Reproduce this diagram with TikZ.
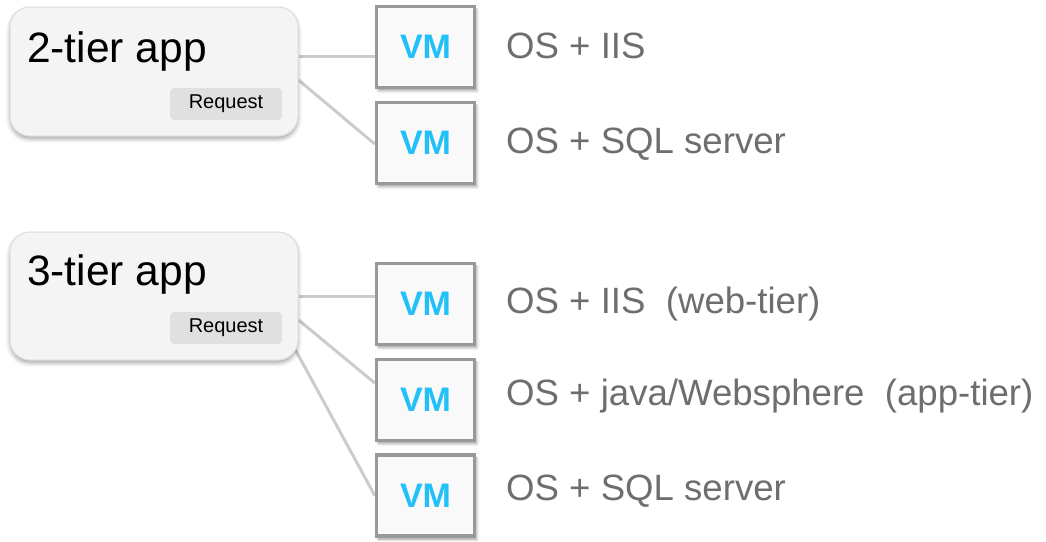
\documentclass[tikz,border=0pt]{standalone}
\usepackage{fontspec}
\setmainfont{Liberation Sans}
\usetikzlibrary{shadows.blur,backgrounds}
\definecolor{appfill}{HTML}{F4F4F4}
\definecolor{appdraw}{HTML}{DDDDDD}
\definecolor{reqfill}{HTML}{E0E0E0}
\definecolor{vmfill}{HTML}{F9F9F9}
\definecolor{vmdraw}{HTML}{999999}
\definecolor{vmblue}{HTML}{22C0F8}
\definecolor{labgray}{HTML}{6E6E6E}
\definecolor{linkgray}{HTML}{CCCCCC}
\tikzset{
  appbox/.style={draw=appdraw, line width=1pt, fill=appfill, rounded corners=20pt,
    minimum width=288pt, inner sep=0pt,
    blur shadow={shadow xshift=0pt, shadow yshift=-3pt, shadow blur radius=4pt, shadow opacity=35}},
  apptitle/.style={anchor=base west, inner sep=0pt, font=\fontsize{42.5}{50}\selectfont, text=black},
  reqbox/.style={fill=reqfill, rounded corners=4pt, minimum width=112pt, minimum height=32pt,
    inner sep=0pt, font=\fontsize{20}{24}\selectfont, text=black},
  vmbox/.style={draw=vmdraw, line width=3.5pt, fill=vmfill, minimum width=98pt, minimum height=81pt,
    inner sep=0pt, font=\fontsize{34}{40}\selectfont\bfseries, text=vmblue,
    blur shadow={shadow xshift=2pt, shadow yshift=-3pt, shadow blur radius=3pt, shadow opacity=40}},
  vmlabel/.style={anchor=base west, inner sep=0pt, font=\fontsize{36.6}{42}\selectfont, text=labgray},
  link/.style={draw=linkgray, line width=3pt}
}
\begin{document}
\begin{tikzpicture}[x=1pt,y=-1pt]
\useasboundingbox (0,0) rectangle (1046,541);
% 2-tier
\node[appbox, minimum height=129pt] (app2) at (154,71.5) {};
\node[apptitle] (t2) at (27,62) {2-tier app};
\node[reqbox] (r2) at (226,104) {Request};
\node[vmbox] (vm1) at (425.5,47) {VM};
\node[vmbox] (vm2) at (425.5,143) {VM};
\node[vmlabel] (l1) at (506,58) {OS + IIS};
\node[vmlabel] (l2) at (506,153) {OS + SQL server};
% 3-tier
\node[appbox, minimum height=128pt] (app3) at (154,296) {};
\node[apptitle] (t3) at (27,285) {3-tier app};
\node[reqbox] (r3) at (226,328) {Request};
\node[vmbox] (vm3) at (425.5,304) {VM};
\node[vmbox] (vm4) at (425.5,400) {VM};
\node[vmbox] (vm5) at (425.5,495.5) {VM};
\node[vmlabel] (l3) at (506,313) {OS + IIS\ \ (web-tier)};
\node[vmlabel] (l4) at (506,405) {OS + java/Websphere\ \ (app-tier)};
\node[vmlabel] (l5) at (506,500) {OS + SQL server};
\begin{pgfonlayer}{background}
\draw[link] ([yshift=15.5pt]app2.east) -- ([yshift=-9pt]vm1.west);
\draw[link] ([yshift=-8.5pt]app2.east) -- ([yshift=-1pt]vm2.west);
\draw[link] (app3.east) -- ([yshift=8pt]vm3.west);
\draw[link] ([yshift=-24pt]app3.east) -- ([yshift=17pt]vm4.west);
\draw[link] ([xshift=-3pt,yshift=-54pt]app3.east) -- (vm5.west);
\end{pgfonlayer}
\end{tikzpicture}
\end{document}
